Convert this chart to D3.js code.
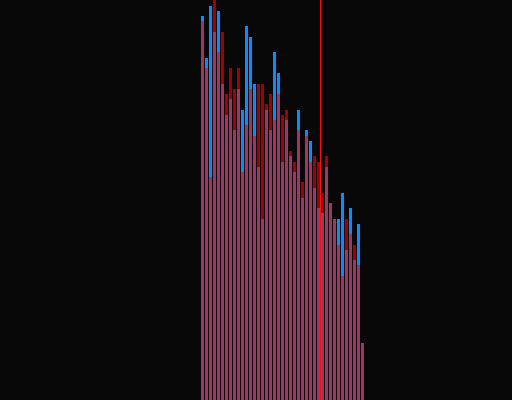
<!DOCTYPE html>
<html>
<head>
<meta charset="utf-8">
<script src="https://cdn.jsdelivr.net/npm/d3@7"></script>
<style>
  html, body { margin: 0; padding: 0; background: #080808; }
  svg { display: block; }
</style>
</head>
<body>
<script>
// bin index (start of each bin)
const bins = d3.range(41);
// blue series counts
const blueValues = [192, 171, 197, 184, 194.5, 158, 142.5, 150.5, 135, 155.5,
  145, 187, 181.5, 158, 116.5, 90.5, 145, 135, 174, 163.5,
  119, 140, 122, 114, 145, 101, 135, 129.5, 106, 96,
  93.5, 116.5, 98.5, 90.5, 90.5, 103.5, 75, 96, 70, 88, 28.5];
// red series counts
const redValues = [189.5, 166, 111.5, 200, 174, 184, 153, 166, 155.5, 166,
  114, 137.5, 155.5, 132, 158, 158, 148, 153, 140, 153,
  142.5, 145, 124.5, 119, 135, 109, 132, 119, 122, 119,
  103.5, 122, 98.5, 90.5, 77.5, 62, 90.5, 83, 77.5, 67.5, 28.5];
// threshold marker
const markerValue = 29.75;

const W = 512, H = 400;
const svg = d3.select("body").append("svg").attr("width", W).attr("height", H);
svg.append("rect").attr("width", W).attr("height", H).attr("fill", "#080808");

const x = d3.scaleLinear().domain([-50, 78]).range([1, 513]);
const y = d3.scaleLinear().domain([0, 200]).range([H, 0]);
const bw = d => x(d + 1) - x(d) - 1;

svg.append("g").selectAll("rect").data(bins).join("rect")
  .attr("x", d => x(d)).attr("width", d => bw(d))
  .attr("y", d => y(blueValues[d])).attr("height", d => y(0) - y(blueValues[d]))
  .attr("fill", "#0a8cff").attr("shape-rendering", "crispEdges");

svg.append("g").selectAll("rect").data(bins).join("rect")
  .attr("x", d => x(d)).attr("width", d => bw(d))
  .attr("y", d => y(redValues[d])).attr("height", d => y(0) - y(redValues[d]))
  .attr("fill", "#ff0000").attr("fill-opacity", 0.6).attr("shape-rendering", "crispEdges");

svg.append("rect")
  .attr("x", x(markerValue)).attr("width", 1)
  .attr("y", y(200)).attr("height", y(0) - y(200))
  .attr("fill", "#ff1010").attr("shape-rendering", "crispEdges");
</script>
</body>
</html>
